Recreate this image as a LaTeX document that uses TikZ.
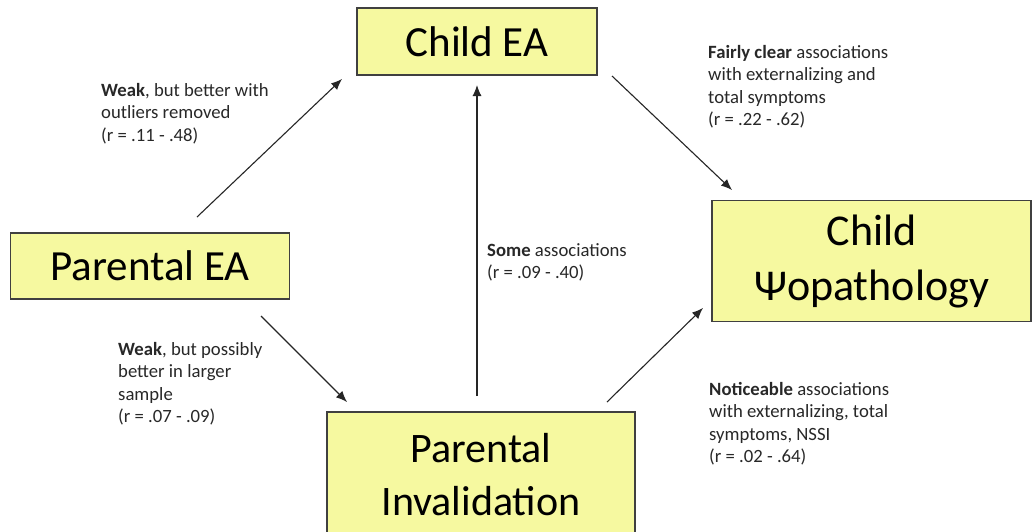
\documentclass[tikz,border=0pt]{standalone}
\usepackage{fontspec}
\setmainfont{Carlito}
\usetikzlibrary{arrows.meta}
\definecolor{boxfill}{RGB}{246,249,160}
\definecolor{boxline}{RGB}{64,64,64}
\definecolor{lbltext}{RGB}{40,40,40}
\tikzset{
  x=1pt, y=-1pt,
  box/.style={draw=boxline, line width=1.2pt, fill=boxfill, inner sep=0pt, align=center,
              font=\fontsize{43}{52}\selectfont},
  lbl/.style={anchor=base west, inner sep=0pt, align=left, text=lbltext,
              font=\fontsize{18.7}{22.6}\selectfont},
  conn/.style={draw=black!85, line width=1.1pt, -{Latex[length=11pt,width=9pt]}}
}
\begin{document}
\begin{tikzpicture}
\clip (0,0) rectangle (1032,531);
\fill[white] (0,0) rectangle (1032,531);
% boxes
\node[box, minimum width=240, minimum height=67] (cea) at (477,41.5) {Child EA};
\node[box, minimum width=279, minimum height=66] (pea) at (150,266) {Parental EA};
\node[box, minimum width=308, minimum height=126, font=\fontsize{42}{53}\selectfont] (pinv) at (481,475) {Parental\\Invalidation};
\node[box, minimum width=319, minimum height=121, font=\fontsize{44}{55}\selectfont] (cpsy) at (871.5,261) {Child\\Ψopathology};
% connector end points
\coordinate (a1s) at (197,217); \coordinate (a1e) at (342,79);
\coordinate (a2s) at (612,76);  \coordinate (a2e) at (732,190);
\coordinate (a3s) at (261,316); \coordinate (a3e) at (347,402);
\coordinate (a4s) at (477,396); \coordinate (a4e) at (477,85);
\coordinate (a5s) at (607,402); \coordinate (a5e) at (703,308);
\draw[conn] (a1s) -- (a1e);
\draw[conn] (a2s) -- (a2e);
\draw[conn] (a3s) -- (a3e);
\draw[conn] (a4s) -- (a4e);
\draw[conn] (a5s) -- (a5e);
% labels (anchored at the baseline of their last line)
\node[lbl] (l1) at (101,141.2) {\textbf{Weak}, but better with\\outliers removed\\(r = .11 - .48)};
\node[lbl] (l2) at (708,125.8) {\textbf{Fairly clear} associations\\with externalizing and\\total symptoms\\(r = .22 - .62)};
\node[lbl] (l3) at (118,422.8) {\textbf{Weak}, but possibly\\better in larger\\sample\\(r = .07 - .09)};
\node[lbl] (l4) at (487,278.6) {\textbf{Some} associations\\(r = .09 - .40)};
\node[lbl] (l5) at (709,462.8) {\textbf{Noticeable} associations\\with externalizing, total\\symptoms, NSSI\\(r = .02 - .64)};
\end{tikzpicture}
\end{document}
